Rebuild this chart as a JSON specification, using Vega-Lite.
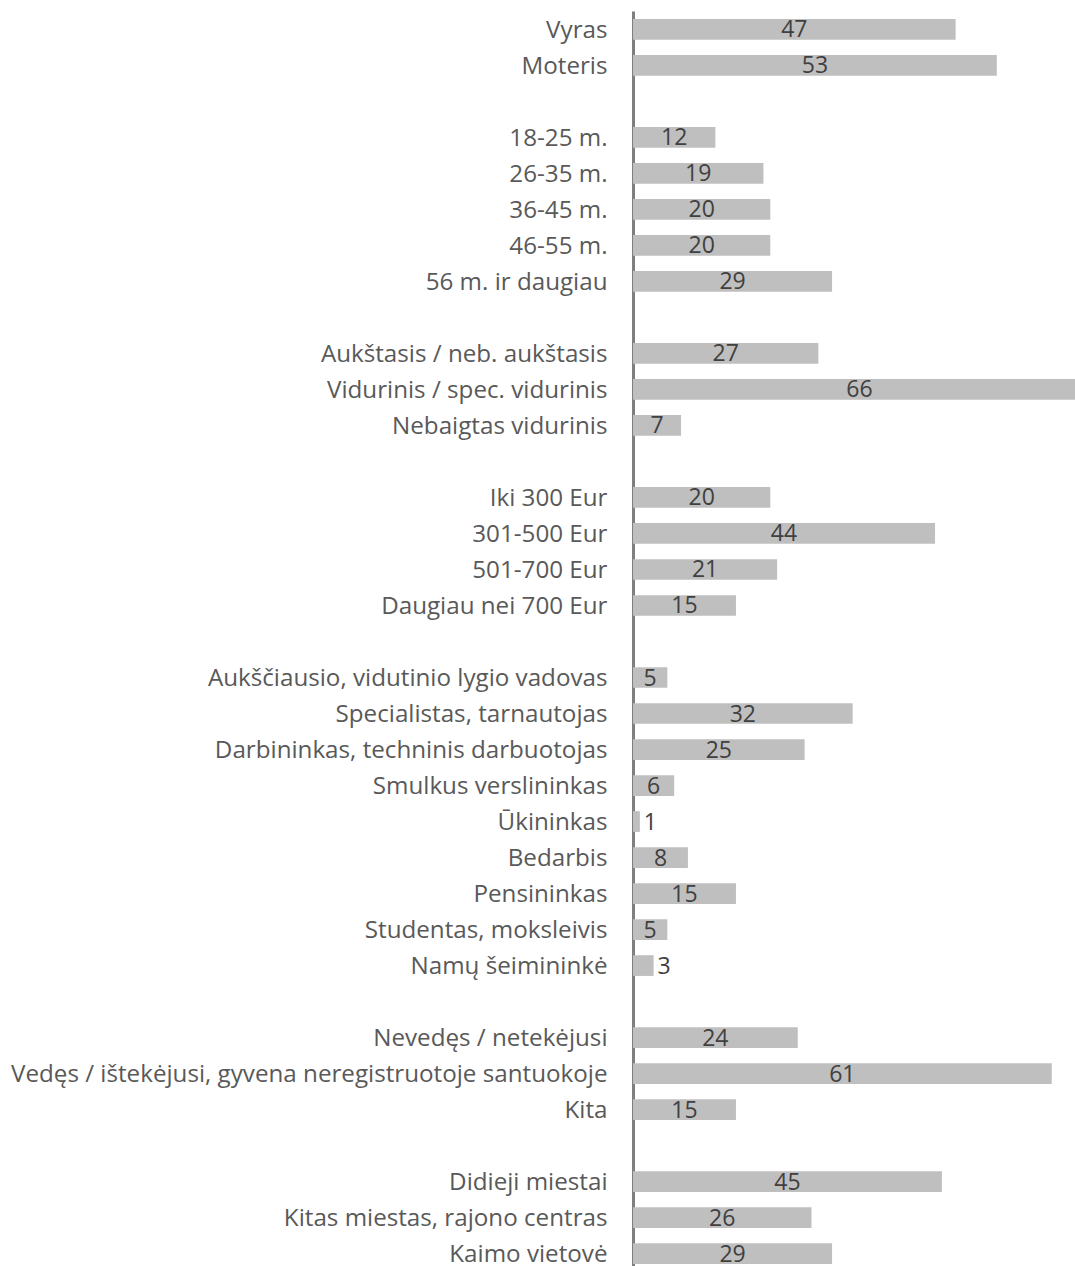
{
  "$schema": "https://vega.github.io/schema/vega-lite/v6.json",
  "autosize": {"type": "none"},
  "padding": {"left": 633, "top": 11, "right": 0, "bottom": 0},
  "width": 442,
  "height": 1255,
  "background": "white",
  "config": {"view": {"stroke": null}},
  "data": {"values": [
    {"k": "Vyras", "v": 47},
    {"k": "Moteris", "v": 53},
    {"k": "18-25 m.", "v": 12},
    {"k": "26-35 m.", "v": 19},
    {"k": "36-45 m.", "v": 20},
    {"k": "46-55 m.", "v": 20},
    {"k": "56 m. ir daugiau", "v": 29},
    {"k": "Aukštasis / neb. aukštasis", "v": 27},
    {"k": "Vidurinis / spec. vidurinis", "v": 66},
    {"k": "Nebaigtas vidurinis", "v": 7},
    {"k": "Iki 300 Eur", "v": 20},
    {"k": "301-500 Eur", "v": 44},
    {"k": "501-700 Eur", "v": 21},
    {"k": "Daugiau nei 700 Eur", "v": 15},
    {"k": "Aukščiausio, vidutinio lygio vadovas", "v": 5},
    {"k": "Specialistas, tarnautojas", "v": 32},
    {"k": "Darbininkas, techninis darbuotojas", "v": 25},
    {"k": "Smulkus verslininkas", "v": 6},
    {"k": "Ūkininkas", "v": 1},
    {"k": "Bedarbis", "v": 8},
    {"k": "Pensininkas", "v": 15},
    {"k": "Studentas, moksleivis", "v": 5},
    {"k": "Namų šeimininkė", "v": 3},
    {"k": "Nevedęs / netekėjusi", "v": 24},
    {"k": "Vedęs / ištekėjusi, gyvena neregistruotoje santuokoje", "v": 61},
    {"k": "Kita", "v": 15},
    {"k": "Didieji miestai", "v": 45},
    {"k": "Kitas miestas, rajono centras", "v": 26},
    {"k": "Kaimo vietovė", "v": 29}
  ]},
  "encoding": {
    "y": {
      "field": "k",
      "type": "nominal",
      "title": null,
      "scale": {
        "domain": ["Vyras","Moteris","_1","18-25 m.","26-35 m.","36-45 m.","46-55 m.","56 m. ir daugiau","_2","Aukštasis / neb. aukštasis","Vidurinis / spec. vidurinis","Nebaigtas vidurinis","_3","Iki 300 Eur","301-500 Eur","501-700 Eur","Daugiau nei 700 Eur","_4","Aukščiausio, vidutinio lygio vadovas","Specialistas, tarnautojas","Darbininkas, techninis darbuotojas","Smulkus verslininkas","Ūkininkas","Bedarbis","Pensininkas","Studentas, moksleivis","Namų šeimininkė","_5","Nevedęs / netekėjusi","Vedęs / ištekėjusi, gyvena neregistruotoje santuokoje","Kita","_6","Didieji miestai","Kitas miestas, rajono centras","Kaimo vietovė"],
        "range": [0, 1261],
        "paddingInner": 0.425,
        "paddingOuter": 0.222
      },
      "axis": {
        "domain": true,
        "domainColor": "#7f7f7f",
        "domainWidth": 3,
        "ticks": false,
        "grid": false,
        "labelFont": "Open Sans",
        "labelFontSize": 24.2,
        "labelColor": "#595959",
        "labelPadding": 26,
        "labelOffset": 1.5,
        "labelLimit": 1000,
        "labelExpr": "indexof(datum.value, '_') == 0 ? '' : datum.value"
      }
    }
  },
  "layer": [
    {
      "mark": {"type": "bar", "color": "#bfbfbf"},
      "encoding": {
        "x": {"field": "v", "type": "quantitative", "axis": null, "scale": {"domain": [0, 64.39], "nice": false, "zero": true}}
      }
    },
    {
      "transform": [{"filter": "datum.v >= 4"}],
      "mark": {"type": "text", "font": "Open Sans", "fontSize": 23, "color": "#404040", "align": "center", "baseline": "middle", "dy": 1},
      "encoding": {
        "x": {"field": "v", "type": "quantitative", "axis": null, "scale": {"domain": [0, 128.78], "nice": false, "zero": true}},
        "text": {"field": "v", "type": "quantitative"}
      }
    },
    {
      "transform": [{"filter": "datum.v < 4"}],
      "mark": {"type": "text", "font": "Open Sans", "fontSize": 23, "color": "#404040", "align": "left", "baseline": "middle", "dy": 1, "dx": 4},
      "encoding": {
        "x": {"field": "v", "type": "quantitative", "axis": null, "scale": {"domain": [0, 64.39], "nice": false, "zero": true}},
        "text": {"field": "v", "type": "quantitative"}
      }
    }
  ],
  "resolve": {"scale": {"x": "independent"}}
}
